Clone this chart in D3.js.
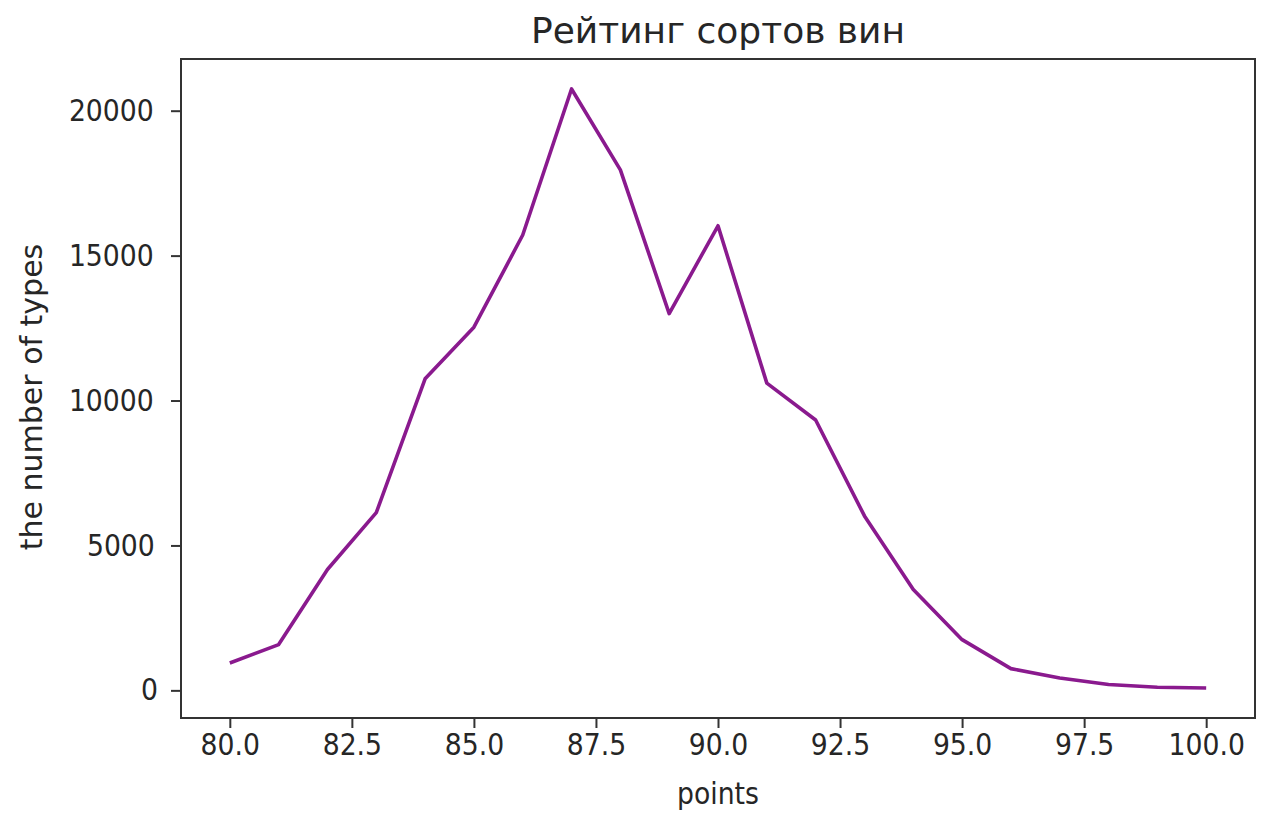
<!DOCTYPE html>
<html lang="ru">
<head>
<meta charset="UTF-8">
<title>Рейтинг сортов вин</title>
<style>
  body { margin: 0; background: #fff; }
  svg text { font-family: "DejaVu Sans", sans-serif; fill: #262626; }
  .squeeze { transform-box: fill-box; transform-origin: center; transform: scaleX(0.89); }
</style>
</head>
<body>
<div id="chart"></div>
<script src="https://cdn.jsdelivr.net/npm/d3@7"></script>
<script>
// data: wine ratings (points) vs number of wines
var points = [80, 81, 82, 83, 84, 85, 86, 87, 88, 89, 90, 91, 92, 93, 94, 95, 96, 97, 98, 99, 100];
var counts = [945, 1580, 4170, 6130, 10750, 12530, 15710, 20750, 17960, 13000, 16030, 10600, 9330, 6020, 3480, 1750, 750, 425, 200, 105, 80];
var xTicks = [80, 82.5, 85, 87.5, 90, 92.5, 95, 97.5, 100];
var yTicks = [0, 5000, 10000, 15000, 20000];

var width = 1266, height = 813;
var box = { left: 181, right: 1255, top: 59, bottom: 718 };

var svg = d3.select('#chart').append('svg')
  .attr('width', width)
  .attr('height', height);

// matplotlib-style 5% margins
var xSpan = d3.max(points) - d3.min(points);
var ySpan = d3.max(counts) - d3.min(counts);
var x = d3.scaleLinear()
  .domain([d3.min(points) - xSpan * 0.05, d3.max(points) + xSpan * 0.05])
  .range([box.left, box.right]);
var y = d3.scaleLinear()
  .domain([d3.min(counts) - ySpan * 0.05, d3.max(counts) + ySpan * 0.05])
  .range([box.bottom, box.top]);

// line
var line = d3.line()
  .x(function (d, i) { return x(points[i]); })
  .y(function (d) { return y(d); });

svg.append('path')
  .datum(counts)
  .attr('d', line)
  .attr('fill', 'none')
  .attr('stroke', '#8a1a8e')
  .attr('stroke-width', 3.6)
  .attr('stroke-linejoin', 'round');

// axes
var xAxis = svg.append('g')
  .attr('transform', 'translate(0,' + box.bottom + ')')
  .call(d3.axisBottom(x).tickValues(xTicks).tickFormat(d3.format('.1f')).tickSize(10).tickPadding(6));
var yAxis = svg.append('g')
  .attr('transform', 'translate(' + box.left + ',0)')
  .call(d3.axisLeft(y).tickValues(yTicks).tickFormat(d3.format('d')).tickSize(10).tickPadding(12));

[xAxis, yAxis].forEach(function (g) {
  g.select('.domain').remove();
  g.selectAll('.tick line').attr('stroke', '#333').attr('stroke-width', 2);
  g.selectAll('.tick text')
    .attr('class', 'squeeze')
    .style('font-size', '30px')
    .style('font-family', '"DejaVu Sans", sans-serif')
    .attr('fill', '#262626');
});

// frame
svg.append('rect')
  .attr('x', box.left)
  .attr('y', box.top)
  .attr('width', box.right - box.left)
  .attr('height', box.bottom - box.top)
  .attr('fill', 'none')
  .attr('stroke', '#333')
  .attr('stroke-width', 2);

// labels
svg.append('text')
  .attr('x', (box.left + box.right) / 2)
  .attr('y', 43)
  .attr('text-anchor', 'middle')
  .style('font-size', '36px')
  .text('Рейтинг сортов вин');

svg.append('text')
  .attr('class', 'squeeze')
  .attr('x', (box.left + box.right) / 2)
  .attr('y', 804)
  .attr('text-anchor', 'middle')
  .style('font-size', '30px')
  .text('points');

svg.append('text')
  .attr('transform', 'translate(42,397) rotate(-90)')
  .attr('text-anchor', 'middle')
  .style('font-size', '30px')
  .text('the number of types');
</script>
</body>
</html>
